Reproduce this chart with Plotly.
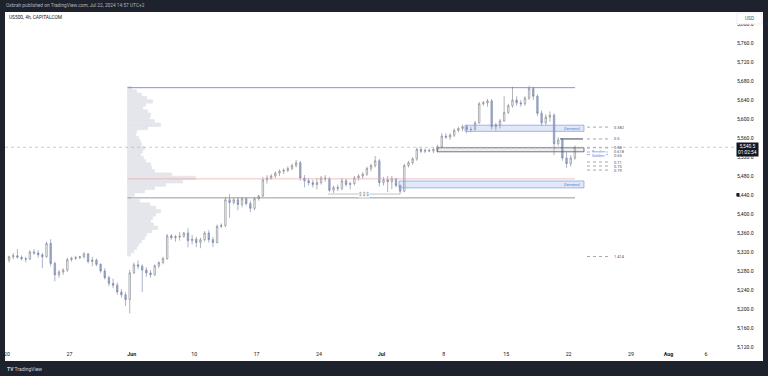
import plotly.graph_objects as go

# ---------------- data (US500, CAPITALCOM) : 8-hour blocks, 3 per trading day, May 20 -> Jul 22 2024 ----------------
opens = [
    5303, 5310, 5312, 5309, 5306, 5305, 5320, 5318, 5314, 5310, 5338, 5296, 5272, 5278, 5282,
    5304, 5307, 5308, 5310, 5316, 5300, 5303, 5294, 5280, 5266, 5254, 5250, 5236, 5230, 5220,
    5276, 5293, 5290, 5282, 5276, 5272, 5291, 5298, 5306, 5354, 5350, 5352, 5353, 5360, 5344,
    5347, 5340, 5346, 5360, 5346, 5340, 5374, 5376, 5430, 5424, 5430, 5420, 5432, 5422, 5412,
    5432, 5438, 5472, 5476, 5480, 5486, 5490, 5492, 5496, 5502, 5508, 5476, 5470, 5466, 5462,
    5466, 5476, 5474, 5450, 5456, 5454, 5470, 5462, 5464, 5476, 5480, 5484, 5496, 5502, 5512,
    5466, 5472, 5468, 5474, 5460, 5448, 5502, 5508, 5516, 5536, 5532, 5534, 5533, 5536, 5542,
    5564, 5562, 5566, 5576, 5580, 5584, 5578, 5578, 5592, 5632, 5634, 5638, 5584, 5588, 5596,
    5614, 5628, 5640, 5634, 5632, 5644, 5664, 5648, 5612, 5592, 5604, 5608, 5548, 5556, 5518,
    5506, 5518,
]
highs = [
    5312, 5318, 5326, 5313, 5310, 5324, 5326, 5324, 5318, 5342, 5347, 5300, 5282, 5286, 5308,
    5310, 5312, 5312, 5320, 5318, 5310, 5306, 5296, 5286, 5270, 5264, 5256, 5242, 5236, 5282,
    5298, 5302, 5294, 5288, 5282, 5294, 5300, 5310, 5358, 5358, 5356, 5362, 5362, 5370, 5356,
    5352, 5350, 5364, 5366, 5352, 5378, 5380, 5436, 5442, 5434, 5436, 5436, 5436, 5428, 5436,
    5440, 5478, 5482, 5484, 5490, 5494, 5496, 5500, 5506, 5514, 5512, 5482, 5476, 5472, 5476,
    5480, 5482, 5478, 5460, 5462, 5476, 5474, 5468, 5480, 5484, 5488, 5500, 5506, 5522, 5516,
    5478, 5480, 5480, 5476, 5462, 5506, 5512, 5520, 5540, 5540, 5538, 5538, 5540, 5546, 5570,
    5570, 5570, 5580, 5584, 5588, 5588, 5584, 5596, 5636, 5638, 5642, 5642, 5592, 5600, 5648,
    5632, 5668, 5648, 5640, 5648, 5670, 5668, 5652, 5618, 5610, 5616, 5612, 5562, 5560, 5530,
    5524, 5544,
]
lows = [
    5298, 5305, 5306, 5302, 5298, 5303, 5314, 5308, 5286, 5308, 5290, 5258, 5266, 5272, 5278,
    5300, 5303, 5305, 5306, 5296, 5290, 5290, 5276, 5262, 5248, 5244, 5230, 5224, 5206, 5191,
    5274, 5284, 5236, 5268, 5266, 5270, 5286, 5294, 5304, 5346, 5342, 5344, 5350, 5330, 5336,
    5330, 5328, 5342, 5340, 5330, 5338, 5370, 5372, 5392, 5420, 5408, 5414, 5418, 5404, 5408,
    5428, 5436, 5464, 5472, 5476, 5480, 5484, 5488, 5492, 5498, 5470, 5456, 5460, 5456, 5452,
    5462, 5468, 5446, 5444, 5448, 5450, 5458, 5452, 5460, 5470, 5474, 5480, 5490, 5498, 5458,
    5460, 5446, 5452, 5456, 5442, 5446, 5498, 5504, 5512, 5528, 5528, 5530, 5528, 5530, 5540,
    5558, 5556, 5562, 5572, 5574, 5570, 5572, 5576, 5590, 5628, 5626, 5578, 5576, 5580, 5594,
    5610, 5624, 5628, 5626, 5628, 5640, 5640, 5606, 5586, 5588, 5594, 5524, 5544, 5512, 5497,
    5500, 5514,
]
closes = [
    5310, 5312, 5309, 5306, 5305, 5320, 5318, 5314, 5310, 5338, 5296, 5272, 5278, 5282, 5304,
    5307, 5308, 5310, 5316, 5300, 5303, 5294, 5280, 5266, 5254, 5250, 5236, 5230, 5220, 5276,
    5293, 5290, 5282, 5276, 5272, 5291, 5298, 5306, 5354, 5350, 5352, 5353, 5360, 5344, 5347,
    5340, 5346, 5360, 5346, 5340, 5374, 5376, 5430, 5424, 5430, 5420, 5432, 5422, 5412, 5432,
    5438, 5472, 5476, 5480, 5486, 5490, 5492, 5496, 5502, 5508, 5476, 5470, 5466, 5462, 5466,
    5476, 5474, 5450, 5456, 5454, 5470, 5462, 5464, 5476, 5480, 5484, 5496, 5502, 5512, 5466,
    5472, 5468, 5474, 5460, 5448, 5502, 5508, 5516, 5536, 5532, 5534, 5533, 5536, 5542, 5564,
    5562, 5566, 5576, 5580, 5584, 5578, 5578, 5592, 5632, 5634, 5638, 5584, 5588, 5596, 5614,
    5628, 5640, 5634, 5632, 5644, 5664, 5648, 5612, 5592, 5604, 5608, 5548, 5556, 5518, 5506,
    5518, 5540.5,
]
last_price = 5540.5

# time axis (trading-day index, May 20 = 0)
tick_days = [0, 5, 10, 15, 20, 25, 30, 35, 40, 45, 50, 53, 56]
tick_text = ["20", "27", "<b>Jun</b>", "10", "17", "24", "<b>Jul</b>", "8", "15", "22", "29", "<b>Aug</b>", "6"]

# price axis
price_ticks = list(range(5120, 5801, 40))

# fixed-range volume profile
profile_prices = [5665 - 7 * i for i in range(51)]
profile_volume = [4, 9, 14, 19, 25, 18, 15, 20, 23, 22, 27, 33, 20, 9, 8, 11, 13, 14, 17, 15,
                  13, 16, 18, 23, 24, 27, 44, 68, 55, 38, 27, 17, 7, 3, 12, 22, 28, 33, 28, 25,
                  23, 26, 30, 24, 19, 17, 14, 11, 9, 6, 3]

# key levels
range_high = 5666
poc_level = 5474
support_level = 5434
breaker_box = (5531, 5539.5)
half_level = 5558
demand_upper = (5574, 5587)
demand_lower = (5455, 5469.5)
liquidity_level = 5442
fib_labels = ["0.382", "0.5", "0.58", "0.618", "0.65", "0.71", "0.75", "0.79", "1.414"]
fib_prices = [5583, 5558, 5539, 5530.5, 5525, 5509.5, 5501, 5492.5, 5310.5]

# ---------------- figure ----------------
DAY_PX = 12.48          # pixels per trading day in the reference
X0, X1 = -0.16, 58.41   # visible range in trading days
Y0, Y1 = 5113.7, 5825.3
n = len(closes)
bar_x = [i / 3 + 1 / 6 for i in range(n)]

PROFILE_START = 9.66
LINE_END = 45.51
BOX_END = 46.23
FONT = "Roboto"
BLUE = "#5b7fd6"
PROFILE_GREY = "#e4e6eb"

fig = go.Figure()

fig.add_trace(go.Bar(
    y=profile_prices, x=[v / DAY_PX for v in profile_volume], base=PROFILE_START,
    orientation="h", width=7, marker=dict(color=PROFILE_GREY, line=dict(width=0.8, color=PROFILE_GREY)),
    hoverinfo="skip", showlegend=False))

fig.add_trace(go.Candlestick(
    x=bar_x, open=opens, high=highs, low=lows, close=closes,
    increasing=dict(line=dict(color="#7a7d87", width=0.6), fillcolor="#ffffff"),
    decreasing=dict(line=dict(color="#7382a6", width=0.6), fillcolor="#a4b1d0"),
    whiskerwidth=0, hoverinfo="skip", showlegend=False))

shapes = []
annotations = []

def hline(x0, x1, y, color, width=1, dash="solid"):
    shapes.append(dict(type="line", xref="x", yref="y", x0=x0, x1=x1, y0=y, y1=y,
                       line=dict(color=color, width=width, dash=dash)))

def box(x0, x1, lo, hi, fill, border, width=0.8):
    shapes.append(dict(type="rect", xref="x", yref="y", x0=x0, x1=x1, y0=lo, y1=hi,
                       fillcolor=fill, line=dict(color=border, width=width)))

# white chart panel (pane + scales)
shapes.append(dict(type="rect", xref="paper", yref="paper", x0=0, x1=758 / 731, y0=-11 / 338, y1=1,
                   fillcolor="#ffffff", line=dict(width=0), layer="below"))

hline(PROFILE_START, LINE_END, range_high, BLUE, 0.8)
hline(PROFILE_START, LINE_END, poc_level, "#e8a7a7", 0.7)
hline(PROFILE_START, LINE_END, support_level, "#7b7e86", 0.8)
box(31.41, BOX_END, demand_lower[0], demand_lower[1], "rgba(120,150,220,0.22)", "#7e9be0", 0.7)
box(36.70, BOX_END, demand_upper[0], demand_upper[1], "rgba(120,150,220,0.22)", "#7e9be0", 0.7)
box(34.46, BOX_END, breaker_box[0], breaker_box[1], "rgba(150,150,160,0.15)", "#50535e", 0.8)
hline(44.31, 46.15, half_level, "#2a2e39", 0.9)
hline(25.72, 31.49, liquidity_level, "#9598a1", 0.6)

# current price line
shapes.append(dict(type="line", xref="paper", yref="y", x0=0, x1=1, y0=last_price, y1=last_price,
                   line=dict(color="#b2b5be", width=0.7, dash="dot")))
# small marker on price scale
shapes.append(dict(type="rect", xref="paper", yref="y", x0=1.0005, x1=1.0045, y0=5437, y1=5444,
                   fillcolor="#131722", line=dict(width=0)))
# USD box on the price scale (covers the top tick)
shapes.append(dict(type="rect", xref="paper", yref="paper", x0=(737 - 5) / 731, x1=(762 - 5) / 731,
                   y0=(350 - 24) / 338, y1=(350 - 13) / 338, fillcolor="#ffffff",
                   line=dict(color="#e0e3eb", width=0.6)))

# fib levels
for lab, p in zip(fib_labels, fib_prices):
    col = BLUE if lab in ("0.618", "0.65") else "#6a6d78"
    hline(46.47, 48.32, p, col, 0.6, "dot")
    shift = 0.7 if lab == "0.618" else (-0.7 if lab == "0.65" else 0)
    annotations.append(dict(x=48.48, y=p, xref="x", yref="y", text=lab, showarrow=False, yshift=shift,
                            xanchor="left", yanchor="middle", font=dict(size=4, color="#50535e", family=FONT)))
for lab, p, s in (("Breaker", 5530.5, 0.7), ("Golden", 5525, -0.7)):
    annotations.append(dict(x=47.4, y=p, xref="x", yref="y", text=lab, showarrow=False, bgcolor="#ffffff",
                            xanchor="center", yanchor="middle", borderpad=0, yshift=s,
                            font=dict(size=4, color=BLUE, family=FONT)))

for zone in (demand_upper, demand_lower):
    annotations.append(dict(x=46.1, y=(zone[0] + zone[1]) / 2, xref="x", yref="y", text="<i>Demand</i>",
                            showarrow=False, xanchor="right", yanchor="middle",
                            font=dict(size=4.3, color=BLUE, family=FONT)))

annotations.append(dict(x=28.6, y=liquidity_level, xref="x", yref="y", text="$ $ $", showarrow=False,
                        bgcolor="#ffffff", borderpad=0, xanchor="center", yanchor="middle",
                        font=dict(size=4.5, color="#787b86", family=FONT)))

# last price label
annotations.append(dict(x=1.0, y=5535.5, xref="paper", yref="y", text="5,540.5<br>01:02:54",
                        showarrow=False, xanchor="left", yanchor="middle", align="center",
                        bgcolor="#131722", borderpad=1, font=dict(size=4.8, color="#ffffff", family=FONT)))
# USD text
annotations.append(dict(x=(749.5 - 5) / 731, y=(350 - 18.5) / 338, xref="paper", yref="paper", text="USD",
                        showarrow=False, xanchor="center", yanchor="middle",
                        font=dict(size=4.8, color="#50535e", family=FONT)))
# header texts
annotations.append(dict(x=-1 / 731, y=(350 - 6) / 338, xref="paper", yref="paper",
                        text="Oxbrah published on TradingView.com, Jul 22, 2024 14:57 UTC+2",
                        showarrow=False, xanchor="left", yanchor="middle",
                        font=dict(size=4.8, color="#b2b5be", family=FONT)))
annotations.append(dict(x=2 / 731, y=(350 - 18) / 338, xref="paper", yref="paper",
                        text="US500, 4h, CAPITALCOM", showarrow=False, xanchor="left", yanchor="middle",
                        font=dict(size=4.8, color="#131722", family=FONT)))
annotations.append(dict(x=0, y=(350 - 369) / 338, xref="paper", yref="paper",
                        text="<b>TV</b> TradingView", showarrow=False, xanchor="left", yanchor="middle",
                        font=dict(size=5, color="#d1d4dc", family=FONT)))

fig.update_layout(
    width=768, height=376, margin=dict(l=5, r=32, t=12, b=26),
    paper_bgcolor="#1e222d", plot_bgcolor="#ffffff", boxgap=0.5, showlegend=False,
    shapes=shapes, annotations=annotations,
    font=dict(family=FONT),
    xaxis=dict(range=[X0, X1], tickvals=tick_days, ticktext=tick_text, showgrid=False,
               zeroline=False, showline=False, ticks="", rangeslider=dict(visible=False),
               tickfont=dict(size=5.3, color="#131722", family=FONT), fixedrange=True),
    yaxis=dict(range=[Y0, Y1], side="right", tickvals=price_ticks, tickformat=",.1f",
               showgrid=False, zeroline=False, showline=False, ticks="",
               tickfont=dict(size=5.1, color="#131722", family=FONT), fixedrange=True),
)

fig.write_html("out.html", config={"displayModeBar": False},
               post_script="document.body.style.margin='0';document.body.style.overflow='hidden';")
